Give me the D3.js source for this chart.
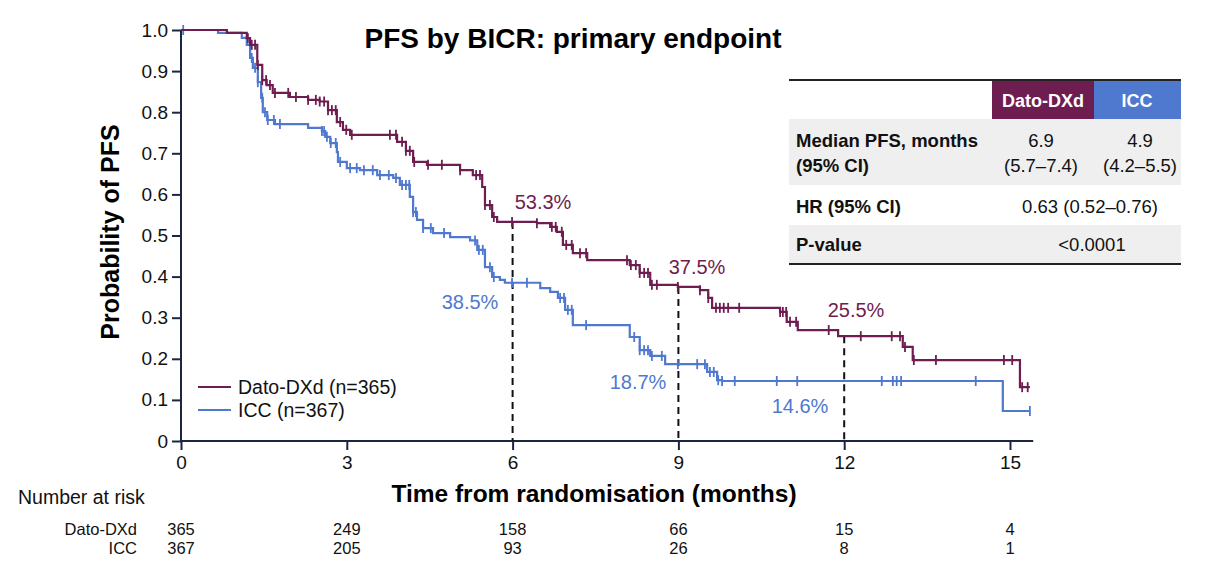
<!DOCTYPE html>
<html>
<head>
<meta charset="utf-8">
<script src="https://cdn.jsdelivr.net/npm/d3@7"></script>
<style>
  body { margin: 0; background: #fff; }
  svg { font-family: 'Liberation Sans Narrow', 'Arial Narrow', 'Liberation Sans', sans-serif; }
</style>
</head>
<body>
<svg id="chart" width="1216" height="576"></svg>
<script>
// step points of the KM curves (time in months, survival)
var datoTime = [0, 0.83, 1.19, 1.25, 1.38, 1.47, 1.55, 1.66, 1.97, 2.30, 2.51, 2.66, 2.82, 2.93, 3.06, 3.91, 4.07, 4.20, 4.45, 5.05, 5.28, 5.45, 5.50, 5.63, 5.72, 6.44, 6.68, 6.80, 6.91, 7.09, 7.35, 8.12, 8.30, 8.49, 8.99, 9.39, 9.54, 9.61, 10.84, 10.96, 11.16, 11.89, 13.06, 13.24, 15.18];
var datoSurv = [1, 0.993, 0.98, 0.964, 0.915, 0.878, 0.866, 0.847, 0.837, 0.830, 0.826, 0.805, 0.776, 0.757, 0.745, 0.728, 0.706, 0.679, 0.672, 0.659, 0.647, 0.618, 0.574, 0.545, 0.533, 0.530, 0.521, 0.509, 0.477, 0.457, 0.440, 0.428, 0.409, 0.380, 0.375, 0.367, 0.348, 0.324, 0.314, 0.290, 0.270, 0.255, 0.229, 0.197, 0.131];
var datoEnd = 15.36;

var iccTime = [0, 0.67, 1.10, 1.19, 1.25, 1.30, 1.39, 1.45, 1.48, 1.56, 1.70, 2.30, 2.55, 2.61, 2.70, 2.82, 2.84, 3.00, 3.24, 3.55, 3.84, 3.96, 4.14, 4.20, 4.27, 4.38, 4.56, 4.87, 5.23, 5.36, 5.50, 5.63, 5.77, 5.86, 6.50, 6.68, 6.82, 6.95, 7.09, 8.12, 8.30, 8.49, 8.76, 9.52, 9.70, 9.79, 14.87];
var iccSurv = [1, 0.993, 0.981, 0.964, 0.932, 0.908, 0.873, 0.835, 0.800, 0.781, 0.771, 0.762, 0.754, 0.740, 0.725, 0.703, 0.679, 0.664, 0.659, 0.647, 0.640, 0.623, 0.594, 0.557, 0.538, 0.518, 0.506, 0.496, 0.488, 0.465, 0.423, 0.399, 0.392, 0.385, 0.372, 0.363, 0.348, 0.319, 0.282, 0.253, 0.221, 0.207, 0.187, 0.168, 0.148, 0.146, 0.073];
var iccEnd = 15.36;

// censoring times
var datoCensor = [1.21, 1.28, 1.34, 1.39, 1.47, 1.54, 1.61, 1.70, 1.94, 2.08, 2.30, 2.44, 2.51, 2.59, 2.66, 2.73, 2.80, 2.88, 2.99, 3.09, 3.78, 3.89, 4.00, 4.07, 4.14, 4.22, 4.47, 4.72, 5.05, 5.34, 5.41, 5.50, 5.59, 5.66, 5.99, 6.44, 6.71, 6.78, 6.89, 6.97, 7.07, 7.22, 7.33, 8.07, 8.14, 8.23, 8.30, 8.38, 8.45, 8.52, 8.61, 8.99, 9.39, 9.54, 9.68, 9.75, 9.82, 9.90, 10.10, 10.84, 10.89, 10.95, 11.02, 11.13, 11.72, 12.30, 12.86, 13.01, 13.10, 13.26, 13.66, 14.89, 15.04, 15.22, 15.32];
var iccCensor = [0.04, 1.28, 1.34, 1.39, 1.47, 1.52, 1.57, 1.68, 1.79, 2.55, 2.59, 2.64, 2.71, 2.80, 2.88, 3.06, 3.18, 3.31, 3.47, 3.60, 3.76, 3.89, 4.00, 4.07, 4.13, 4.20, 4.25, 4.38, 4.52, 4.76, 5.32, 5.39, 5.46, 5.59, 5.66, 5.99, 6.26, 6.86, 6.93, 7.00, 7.07, 7.33, 8.20, 8.30, 8.38, 8.45, 8.52, 8.70, 8.99, 9.34, 9.48, 9.57, 9.64, 9.72, 9.79, 10.02, 10.78, 11.15, 12.68, 12.88, 12.95, 13.03, 14.38, 15.36];

var monthTicks = [0, 3, 6, 9, 12, 15];
var probTicks = [0, 0.1, 0.2, 0.3, 0.4, 0.5, 0.6, 0.7, 0.8, 0.9, 1.0];
var landmarkMonths = [6, 9, 12];
var datoLandmark = ["53.3%", "37.5%", "25.5%"];
var iccLandmark = ["38.5%", "18.7%", "14.6%"];
var riskDato = [365, 249, 158, 66, 15, 4];
var riskIcc = [367, 205, 93, 26, 8, 1];

var purple = "#6e1d50", blue = "#4f78cf", axisCol = "#1c2640";

var svg = d3.select("#chart");
var x = d3.scaleLinear().domain([0, 15]).range([181, 1010]);
var y = d3.scaleLinear().domain([0, 1]).range([441, 30]);

function survAt(times, surv, t) {
	var i = d3.bisectRight(times, t) - 1;
	return surv[Math.max(i, 0)];
}

// axes
var yAxis = svg.append("g").attr("transform", "translate(181,0)")
		.call(d3.axisLeft(y).tickValues(probTicks).tickSize(9).tickPadding(4)
			.tickFormat(function(d){ return d == 0 ? "0" : d3.format(".1f")(d); }));
var xAxis = svg.append("g").attr("transform", "translate(0,441)")
		.call(d3.axisBottom(x).tickValues(monthTicks).tickSize(9).tickPadding(6));
[yAxis, xAxis].forEach(function(g){
	g.select(".domain").remove();
	g.selectAll("line").attr("stroke", axisCol).attr("stroke-width", 2);
	g.selectAll("text").attr("font-size", 19).attr("fill", "#111");
});
svg.append("line").attr("x1", 181).attr("x2", 181).attr("y1", y(1)).attr("y2", 442)
		.attr("stroke", axisCol).attr("stroke-width", 2);
svg.append("line").attr("x1", 180).attr("x2", x(15.42)).attr("y1", 441).attr("y2", 441)
		.attr("stroke", axisCol).attr("stroke-width", 2.2);

// landmark dashes
landmarkMonths.forEach(function(m){
	svg.append("line").attr("x1", x(m)).attr("x2", x(m))
		.attr("y1", y(survAt(datoTime, datoSurv, m))).attr("y2", y(0))
		.attr("stroke", "#111").attr("stroke-width", 2).attr("stroke-dasharray", "7,5");
});

// curves
var line = d3.line().x(function(d){ return x(d[0]); }).y(function(d){ return y(d[1]); })
		.curve(d3.curveStepAfter);
function drawCurve(times, surv, end, censor, col) {
	var pts = times.map(function(t, i){ return [t, surv[i]]; });
	pts.push([end, surv[surv.length - 1]]);
	svg.append("path").datum(pts).attr("d", line)
		.attr("fill", "none").attr("stroke", col).attr("stroke-width", 2.2);
	svg.append("g").selectAll("line").data(censor).enter().append("line")
		.attr("x1", function(d){ return x(d); }).attr("x2", function(d){ return x(d); })
		.attr("y1", function(d){ return y(survAt(times, surv, d)) - 5; })
		.attr("y2", function(d){ return y(survAt(times, surv, d)) + 5; })
		.attr("stroke", col).attr("stroke-width", 1.8);
}
drawCurve(iccTime, iccSurv, iccEnd, iccCensor, blue);
drawCurve(datoTime, datoSurv, datoEnd, datoCensor, purple);

// landmark labels
var datoLabelPos = [[543, 209], [697, 274], [856, 317]];
var iccLabelPos = [[470, 309], [638, 389], [800, 413]];
svg.append("g").selectAll("text").data(datoLandmark).enter().append("text")
		.attr("x", function(d, i){ return datoLabelPos[i][0]; })
		.attr("y", function(d, i){ return datoLabelPos[i][1]; })
		.attr("text-anchor", "middle").attr("font-size", 20).attr("fill", purple)
		.text(function(d){ return d; });
svg.append("g").selectAll("text").data(iccLandmark).enter().append("text")
		.attr("x", function(d, i){ return iccLabelPos[i][0]; })
		.attr("y", function(d, i){ return iccLabelPos[i][1]; })
		.attr("text-anchor", "middle").attr("font-size", 20).attr("fill", blue)
		.text(function(d){ return d; });

// legend
var legend = [["Dato-DXd (n=365)", purple], ["ICC (n=367)", blue]];
legend.forEach(function(l, i){
	var ly = 387 + i * 23;
	svg.append("line").attr("x1", 198).attr("x2", 231).attr("y1", ly).attr("y2", ly)
		.attr("stroke", l[1]).attr("stroke-width", 2.2);
	svg.append("text").attr("x", 238).attr("y", ly + 7).attr("font-size", 19.5)
		.attr("fill", "#111").text(l[0]);
});

// titles
svg.append("text").attr("x", 573).attr("y", 48).attr("text-anchor", "middle")
		.attr("font-size", 28).attr("font-weight", "bold").attr("fill", "#000")
		.text("PFS by BICR: primary endpoint");
svg.append("text").attr("transform", "translate(119,232) rotate(-90)")
		.attr("text-anchor", "middle").attr("font-size", 25).attr("font-weight", "bold")
		.attr("fill", "#000").text("Probability of PFS");
svg.append("text").attr("x", 594).attr("y", 502).attr("text-anchor", "middle")
		.attr("font-size", 24.5).attr("font-weight", "bold").attr("fill", "#000")
		.text("Time from randomisation (months)");

// number at risk
svg.append("text").attr("x", 18).attr("y", 504).attr("font-size", 19.5).attr("fill", "#111")
		.text("Number at risk");
[["Dato-DXd", riskDato, 535], ["ICC", riskIcc, 554]].forEach(function(r){
	svg.append("text").attr("x", 137).attr("y", r[2]).attr("text-anchor", "end")
		.attr("font-size", 16.5).attr("fill", "#111").text(r[0]);
	svg.append("g").selectAll("text").data(r[1]).enter().append("text")
		.attr("x", function(d, i){ return x(monthTicks[i]); }).attr("y", r[2])
		.attr("text-anchor", "middle").attr("font-size", 16.5).attr("fill", "#111")
		.text(function(d){ return d; });
});

// summary table
var tbl = svg.append("g");
tbl.append("rect").attr("x", 789).attr("y", 119).attr("width", 392).attr("height", 66).attr("fill", "#efefef");
tbl.append("rect").attr("x", 789).attr("y", 225).attr("width", 392).attr("height", 38).attr("fill", "#efefef");
tbl.append("rect").attr("x", 992).attr("y", 81).attr("width", 102).attr("height", 38).attr("fill", purple);
tbl.append("rect").attr("x", 1094).attr("y", 81).attr("width", 87).attr("height", 38).attr("fill", blue);
tbl.append("line").attr("x1", 789).attr("x2", 1181).attr("y1", 80).attr("y2", 80).attr("stroke", "#222").attr("stroke-width", 2);
tbl.append("line").attr("x1", 789).attr("x2", 1181).attr("y1", 264).attr("y2", 264).attr("stroke", "#222").attr("stroke-width", 2);
var hdr = [["Dato-DXd", 1043], ["ICC", 1137]];
hdr.forEach(function(h){
	tbl.append("text").attr("x", h[1]).attr("y", 107).attr("text-anchor", "middle")
		.attr("font-size", 18).attr("font-weight", "bold").attr("fill", "#fff").text(h[0]);
});
var rowLabels = [["Median PFS, months", 147], ["(95% CI)", 172], ["HR (95% CI)", 213], ["P-value", 251]];
rowLabels.forEach(function(r){
	tbl.append("text").attr("x", 796).attr("y", r[1]).attr("font-size", 18.5)
		.attr("font-weight", "bold").attr("fill", "#111").text(r[0]);
});
var cells = [["6.9", 1041, 147], ["(5.7\u20137.4)", 1041, 172], ["4.9", 1140, 147], ["(4.2\u20135.5)", 1140, 172],
	["0.63 (0.52\u20130.76)", 1090, 213], ["<0.0001", 1092, 251]];
cells.forEach(function(c){
	tbl.append("text").attr("x", c[1]).attr("y", c[2]).attr("text-anchor", "middle")
		.attr("font-size", 18.5).attr("fill", "#111").text(c[0]);
});
</script>
</body>
</html>
